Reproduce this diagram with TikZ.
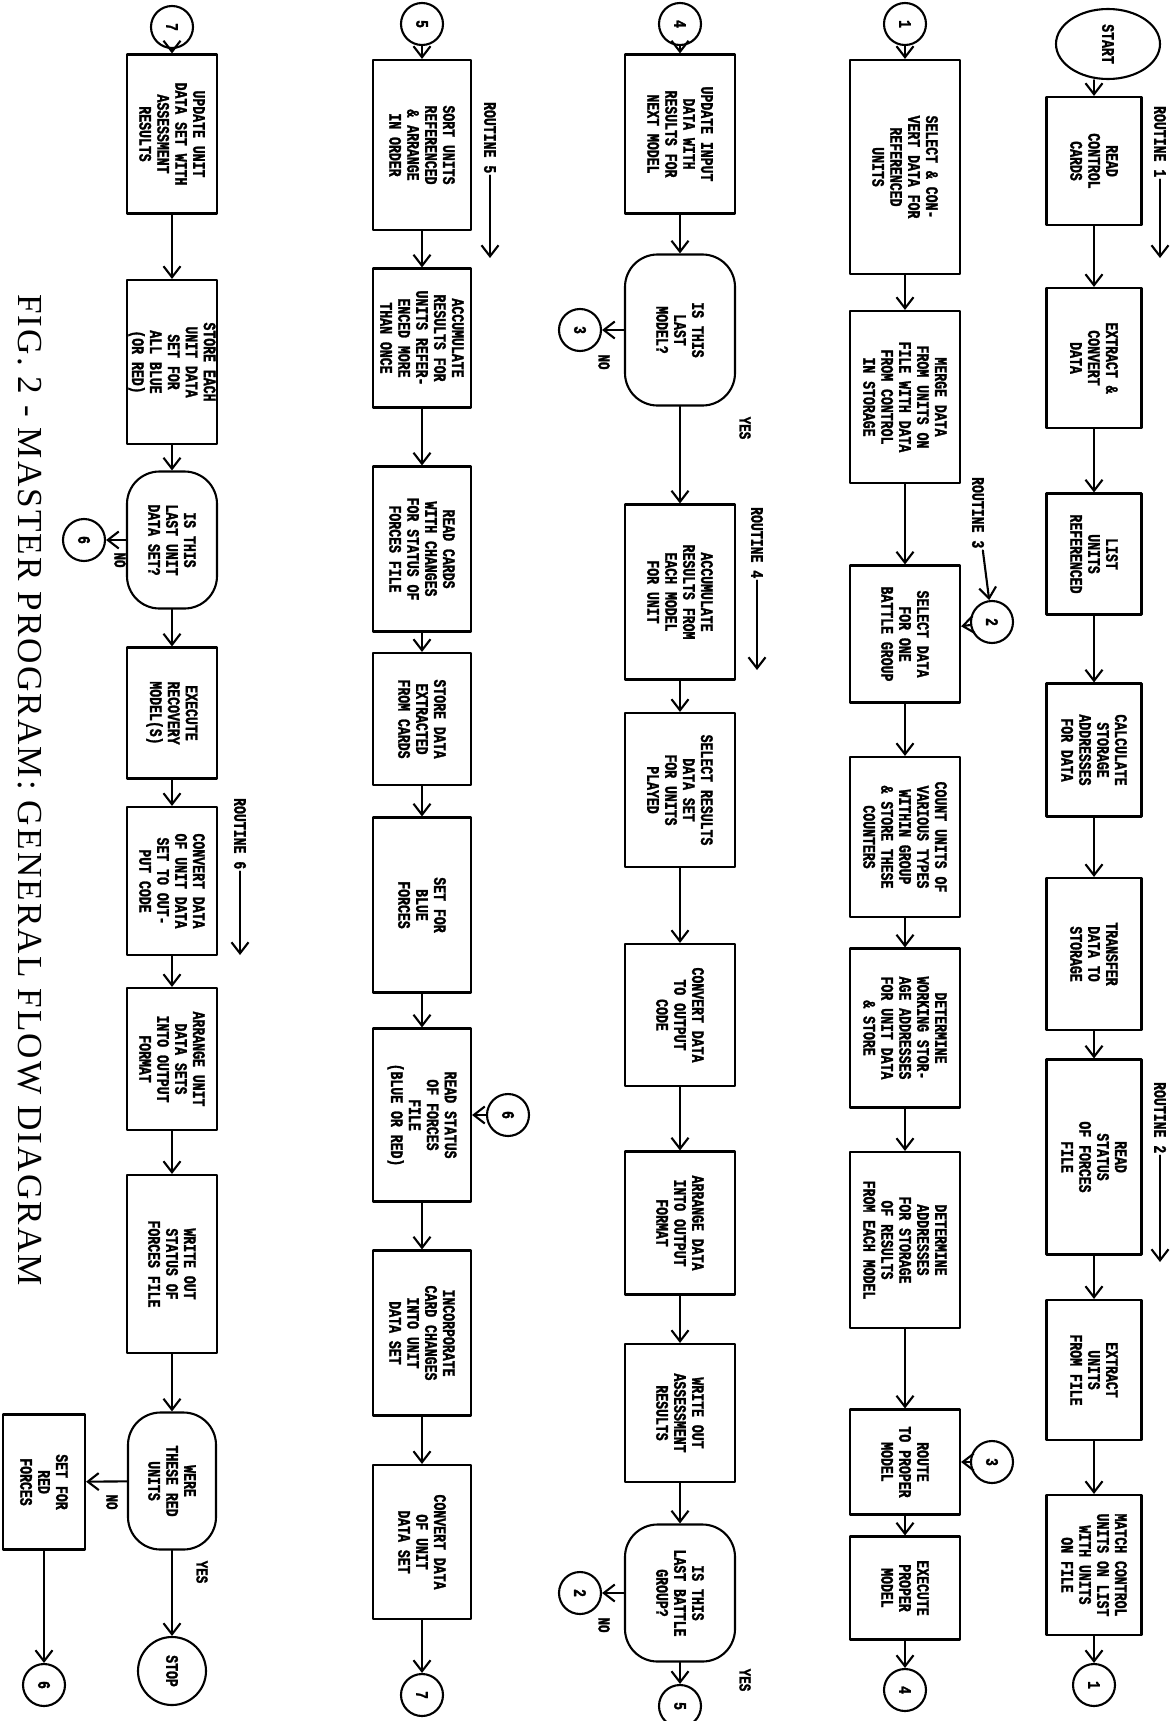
\documentclass[tikz,border=0pt]{standalone}
\usepackage{fontspec}
\setmainfont{Liberation Serif}
\newfontfamily\boxfont[FakeStretch=0.75,BoldFeatures={FakeBold=1.6}]{Liberation Mono}
\usetikzlibrary{arrows.meta,shapes.geometric}

\begin{document}
\begin{tikzpicture}[x=0.2mm,y=0.2mm,rotate=-90,transform shape,line cap=round,line join=round]
  % ----- styles -----
  \tikzset{
    box/.style={draw=black,line width=1.2pt,align=center,inner sep=0.5pt,
      font=\boxfont\bfseries\fontsize{10}{10.2}\selectfont},
    pbox/.style 2 args={box,minimum width=#1,minimum height=#2},
    dec/.style 2 args={box,rounded corners=6.5mm,minimum width=#1,minimum height=#2},
    conn/.style={box,circle,minimum size=8.4mm,inner sep=0pt},
    term/.style={box,ellipse,inner sep=0pt},
    rlabel/.style={font=\boxfont\bfseries\fontsize{10}{11}\selectfont,inner sep=1pt,anchor=west},
    yn/.style={font=\boxfont\bfseries\fontsize{9.5}{10}\selectfont,inner sep=1pt},
    flow/.style={draw=black,line width=1.2pt,-{Straight Barb[length=2.2mm,width=3.4mm]}}
  }
  \useasboundingbox (0,0) rectangle (1721,1171);

  % ----- routine 1 & 2 (Y = 1094) -----
  \node[term,minimum width=14mm,minimum height=20.8mm] (start) at (44,1108) {START};
  \node[pbox={25.6mm}{19mm}] (a1) at (161,1094) {READ\\CONTROL\\CARDS};
  \node[pbox={28mm}{19mm}]   (a2) at (358,1094) {EXTRACT \&\\CONVERT\\DATA};
  \node[pbox={24.2mm}{19mm}] (a3) at (554,1094) {LIST\\UNITS\\REFERENCED};
  \node[pbox={26.6mm}{19mm}] (a4) at (750,1094) {CALCULATE\\STORAGE\\ADDRESSES\\FOR DATA};
  \node[pbox={30.4mm}{19mm}] (a5) at (954,1094) {TRANSFER\\DATA TO\\STORAGE};
  \node[pbox={39mm}{19mm}]   (a6) at (1157,1094) {READ\\STATUS\\OF FORCES\\FILE};
  \node[pbox={28mm}{19mm}]   (a7) at (1370,1094) {EXTRACT\\UNITS\\FROM FILE};
  \node[pbox={28mm}{19mm}]   (a8) at (1565,1094) {MATCH CONTROL\\UNITS ON LIST\\WITH UNITS\\ON FILE};
  \node[conn] (k1a) at (1685,1094) {1};

  \draw[flow] (start.east |- a1) -- (a1);
  \foreach \p/\q in {a1/a2,a2/a3,a3/a4,a4/a5,a5/a6,a6/a7,a7/a8,a8/k1a}
    \draw[flow] (\p) -- (\q);

  \node[rlabel] (r1) at (104,1160) {ROUTINE 1};
  \coordinate (r1e) at (258,1160);
  \draw[flow] (r1) -- (r1e);
  \node[rlabel] (r2) at (1080,1160) {ROUTINE 2};
  \coordinate (r2e) at (1262,1160);
  \draw[flow] (r2) -- (r2e);

  % ----- routine 3 (Y = 905) -----
  \node[conn] (k1b) at (24,905) {1};
  \node[pbox={42.8mm}{22mm}] (b1) at (167,905) {SELECT \& CON-\\VERT DATA FOR\\REFERENCED\\UNITS};
  \node[pbox={34.4mm}{22mm}] (b2) at (397,905) {MERGE DATA\\FROM UNITS ON\\FILE WITH DATA\\FROM CONTROL\\IN STORAGE};
  \node[pbox={27.4mm}{22mm}] (b3) at (634,905) {SELECT DATA\\FOR ONE\\BATTLE GROUP};
  \node[pbox={32mm}{22mm}]   (b4) at (837,905) {COUNT UNITS OF\\VARIOUS TYPES\\WITHIN GROUP\\\& STORE THESE\\COUNTERS};
  \node[pbox={31.8mm}{22mm}] (b5) at (1028,905) {DETERMINE\\WORKING STOR-\\AGE ADDRESSES\\FOR UNIT DATA\\\& STORE};
  \node[pbox={35.2mm}{22mm}] (b6) at (1240,905) {DETERMINE\\ADDRESSES\\FOR STORAGE\\OF RESULTS\\FROM EACH MODEL};
  \node[pbox={21mm}{22mm}]   (b7) at (1462,905) {ROUTE\\TO PROPER\\MODEL};
  \node[pbox={20.6mm}{22mm}] (b8) at (1588,905) {EXECUTE\\PROPER\\MODEL};
  \node[conn] (k4b) at (1690,905) {4};
  \node[conn] (k2b) at (622,992) {2};
  \node[conn] (k3b) at (1462,992) {3};

  \foreach \p/\q in {k1b/b1,b1/b2,b2/b3,b3/b4,b4/b5,b5/b6,b6/b7,b7/b8,b8/k4b,k2b/b3,k3b/b7}
    \draw[flow] (\p) -- (\q);

  \node[rlabel] (r3) at (475,978) {ROUTINE 3};
  \draw[flow] (r3) -- (k2b);

  % ----- routine 4 (Y = 680) -----
  \node[conn] (k4c) at (24,680) {4};
  \node[pbox={31.8mm}{22mm}] (c1) at (134,680) {UPDATE INPUT\\DATA WITH\\RESULTS FOR\\NEXT MODEL};
  \node[dec={30.2mm}{22mm}]  (d1) at (330,680) {IS THIS\\LAST\\MODEL?};
  \node[conn] (k3c) at (330,580) {3};
  \node[pbox={35mm}{22mm}]   (c2) at (592,680) {ACCUMULATE\\RESULTS FROM\\EACH MODEL\\FOR UNIT};
  \node[pbox={30.8mm}{22mm}] (c3) at (790,680) {SELECT RESULTS\\DATA SET\\FOR UNITS\\PLAYED};
  \node[pbox={28.4mm}{22mm}] (c4) at (1015,680) {CONVERT DATA\\TO OUTPUT\\CODE};
  \node[pbox={28.6mm}{22mm}] (c5) at (1223,680) {ARRANGE DATA\\INTO OUTPUT\\FORMAT};
  \node[pbox={27.6mm}{22mm}] (c6) at (1413,680) {WRITE OUT\\ASSESSMENT\\RESULTS};
  \node[dec={27.4mm}{22mm}]  (d2) at (1593,680) {IS THIS\\LAST BATTLE\\GROUP?};
  \node[conn] (k2c) at (1593,580) {2};
  \node[conn] (k5c) at (1706,680) {5};

  \foreach \p/\q in {k4c/c1,c1/d1,d1/c2,c2/c3,c3/c4,c4/c5,c5/c6,c6/d2,d2/k5c,d1/k3c,d2/k2c}
    \draw[flow] (\p) -- (\q);

  \node[yn] (n1) at (362,604) {NO};
  \node[yn] (y1) at (428,745) {YES};
  \node[yn] (n2) at (1625,604) {NO};
  \node[yn] (y2) at (1680,745) {YES};

  \node[rlabel] (r4) at (505,757) {ROUTINE 4};
  \coordinate (r4e) at (670,757);
  \draw[flow] (r4) -- (r4e);

  % ----- routine 5 (Y = 422) -----
  \node[conn] (k5d) at (24,422) {5};
  \node[pbox={34mm}{19.6mm}]   (e1) at (145,422) {SORT UNITS\\REFERENCED\\\& ARRANGE\\IN ORDER};
  \node[pbox={27.8mm}{19.6mm}] (e2) at (338,422) {ACCUMULATE\\RESULTS FOR\\UNITS REFER-\\ENCED MORE\\THAN ONCE};
  \node[pbox={33mm}{19.6mm}]   (e3) at (549,422) {READ CARDS\\WITH CHANGES\\FOR STATUS OF\\FORCES FILE};
  \node[pbox={26.4mm}{19.6mm}] (e4) at (719,422) {STORE DATA\\EXTRACTED\\FROM CARDS};
  \node[pbox={35mm}{19.6mm}]   (e5) at (905,422) {SET FOR\\BLUE\\FORCES};
  \node[pbox={34.6mm}{19.6mm}] (e6) at (1115,422) {READ STATUS\\OF FORCES\\FILE\\(BLUE OR RED)};
  \node[pbox={33mm}{19.6mm}]   (e7) at (1333,422) {INCORPORATE\\CARD CHANGES\\INTO UNIT\\DATA SET};
  \node[pbox={30.8mm}{19.6mm}] (e8) at (1542,422) {CONVERT DATA\\OF UNIT\\DATA SET};
  \node[conn] (k7d) at (1695,422) {7};
  \node[conn] (k6d) at (1115,508) {6};

  \foreach \p/\q in {k5d/e1,e1/e2,e2/e3,e3/e4,e4/e5,e5/e6,e6/e7,e7/e8,e8/k7d,k6d/e6}
    \draw[flow] (\p) -- (\q);

  \node[rlabel] (r5) at (100,490) {ROUTINE 5};
  \coordinate (r5e) at (258,490);
  \draw[flow] (r5) -- (r5e);

  % ----- routine 6 (Y = 172) -----
  \node[conn] (k7e) at (27,172) {7};
  \node[pbox={31.8mm}{18mm}] (f1) at (134,172) {UPDATE UNIT\\DATA SET WITH\\ASSESSMENT\\RESULTS};
  \node[pbox={32.8mm}{18mm}] (f2) at (362,172) {STORE EACH\\UNIT DATA\\SET FOR\\ALL BLUE\\(OR RED)};
  \node[dec={27.4mm}{18mm}]  (d3) at (540,172) {IS THIS\\LAST UNIT\\DATA SET?};
  \node[conn] (k6e) at (540,84) {6};
  \node[pbox={26.2mm}{18mm}] (f3) at (713,172) {EXECUTE\\RECOVERY\\MODEL(S)};
  \node[pbox={29.6mm}{18mm}] (f4) at (881,172) {CONVERT DATA\\OF UNIT DATA\\SET TO OUT-\\PUT CODE};
  \node[pbox={28.4mm}{18mm}] (f5) at (1059,172) {ARRANGE UNIT\\DATA SETS\\INTO OUTPUT\\FORMAT};
  \node[pbox={35.6mm}{18mm}] (f6) at (1264,172) {WRITE OUT\\STATUS OF\\FORCES FILE};
  \node[dec={27.4mm}{17.6mm}] (d4) at (1481,172) {WERE\\THESE RED\\UNITS};
  \node[pbox={27mm}{16.4mm}]  (f7) at (1482,44) {SET FOR\\RED\\FORCES};
  \node[box,circle,minimum size=13.6mm,inner sep=0pt] (stop) at (1671,172) {STOP};
  \node[conn] (k6f) at (1685,44) {6};

  \foreach \p/\q in {k7e/f1,f1/f2,f2/d3,d3/k6e,d3/f3,f3/f4,f4/f5,f5/f6,f6/d4,d4/stop,d4/f7,f7/k6f}
    \draw[flow] (\p) -- (\q);

  \node[yn] (n3) at (560,120) {NO};
  \node[yn] (n4) at (1502,112) {NO};
  \node[yn] (y4) at (1572,202) {YES};

  \node[rlabel] (r6) at (796,240) {ROUTINE 6};
  \coordinate (r6e) at (955,240);
  \draw[flow] (r6) -- (r6e);

  % ----- caption -----
  \node[font=\fontsize{20}{24}\selectfont,inner sep=0pt] (cap) at (790,30)
    {\addfontfeatures{LetterSpace=6}FIG. 2 - MASTER PROGRAM: GENERAL FLOW DIAGRAM};
\end{tikzpicture}
\end{document}
